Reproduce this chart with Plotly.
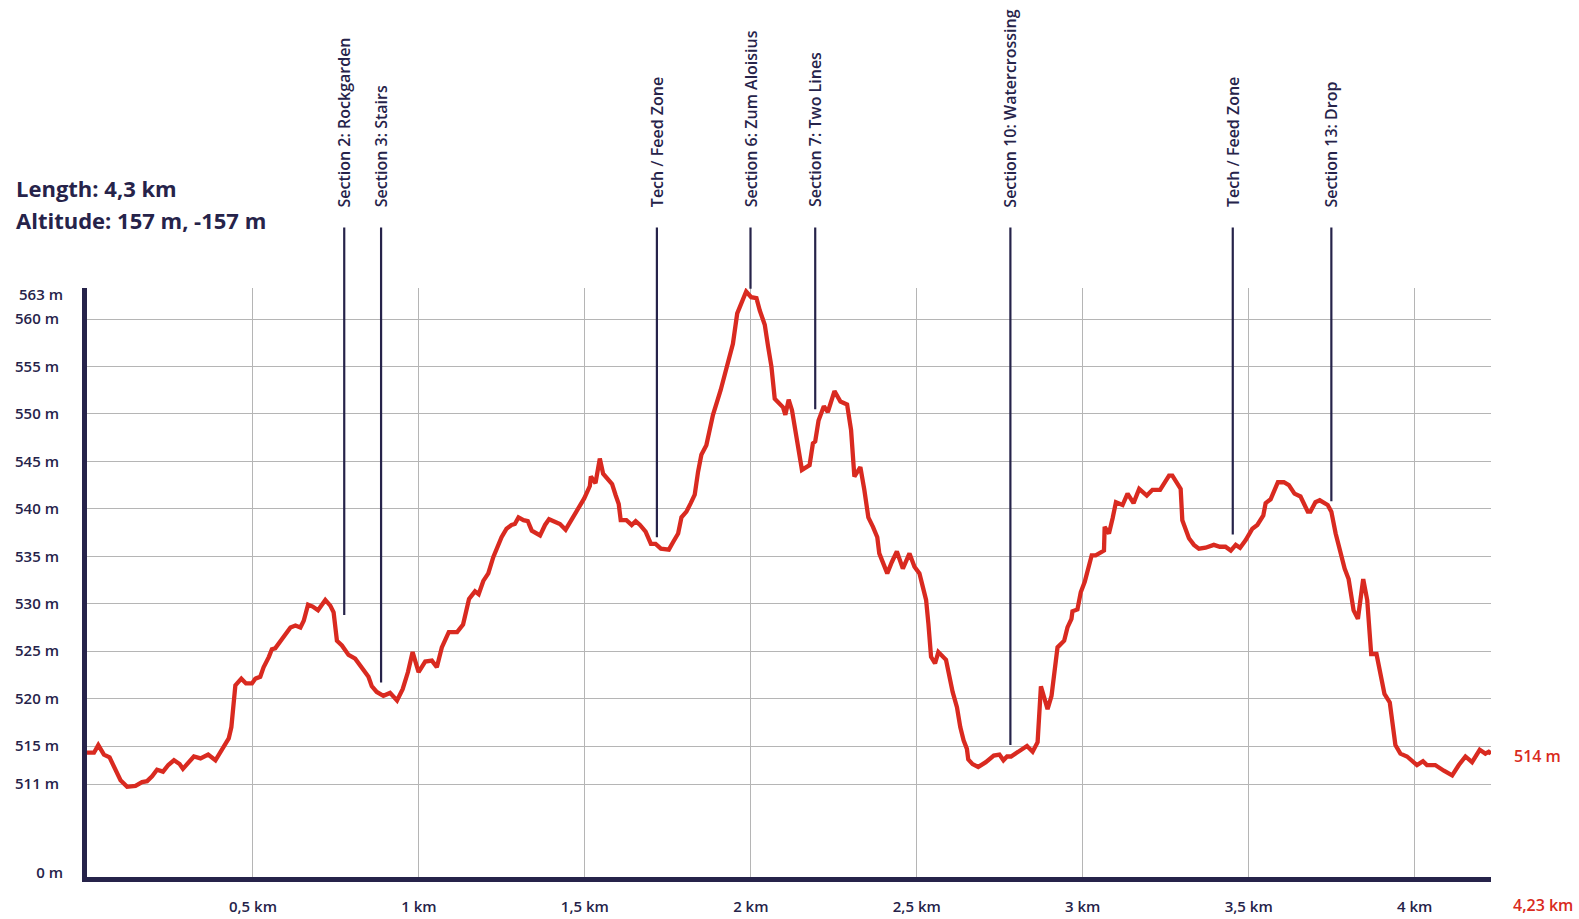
import plotly.graph_objects as go

# ---------------- data ----------------
DIST_KM = [
    0.000, 0.021, 0.034, 0.051, 0.068, 0.086, 0.101, 0.121, 0.146, 0.166, 0.181, 0.196,
    0.211, 0.229, 0.245, 0.262, 0.279, 0.289, 0.305, 0.322, 0.342, 0.365, 0.387, 0.407,
    0.427, 0.435, 0.447, 0.465, 0.479, 0.497, 0.507, 0.522, 0.532, 0.548, 0.557, 0.567,
    0.582, 0.597, 0.613, 0.628, 0.643, 0.653, 0.666, 0.680, 0.696, 0.718, 0.733, 0.743,
    0.753, 0.768, 0.788, 0.808, 0.828, 0.848, 0.858, 0.873, 0.893, 0.913, 0.934, 0.951,
    0.967, 0.981, 0.999, 1.019, 1.039, 1.054, 1.069, 1.090, 1.115, 1.133, 1.151, 1.169,
    1.180, 1.194, 1.209, 1.224, 1.249, 1.264, 1.279, 1.289, 1.300, 1.315, 1.328, 1.340,
    1.365, 1.380, 1.392, 1.408, 1.425, 1.442, 1.460, 1.480, 1.498, 1.515, 1.518, 1.532,
    1.545, 1.555, 1.568, 1.582, 1.593, 1.602, 1.608, 1.625, 1.641, 1.653, 1.666, 1.683,
    1.699, 1.713, 1.729, 1.753, 1.766, 1.781, 1.791, 1.806, 1.819, 1.831, 1.841, 1.851,
    1.866, 1.886, 1.909, 1.931, 1.946, 1.959, 1.971, 1.986, 2.001, 2.017, 2.027, 2.042,
    2.052, 2.062, 2.072, 2.087, 2.097, 2.104, 2.114, 2.124, 2.137, 2.154, 2.177, 2.187,
    2.194, 2.204, 2.220, 2.232, 2.252, 2.270, 2.290, 2.302, 2.312, 2.330, 2.342, 2.354,
    2.368, 2.381, 2.387, 2.398, 2.411, 2.425, 2.440, 2.458, 2.478, 2.493, 2.508, 2.518,
    2.528, 2.535, 2.543, 2.555, 2.565, 2.588, 2.598, 2.608, 2.621, 2.631, 2.641, 2.651,
    2.655, 2.668, 2.685, 2.708, 2.732, 2.749, 2.761, 2.772, 2.784, 2.809, 2.832, 2.849,
    2.864, 2.874, 2.884, 2.894, 2.906, 2.914, 2.924, 2.944, 2.954, 2.966, 2.969, 2.984,
    2.994, 3.006, 3.014, 3.027, 3.039, 3.052, 3.064, 3.066, 3.079, 3.090, 3.100, 3.120,
    3.135, 3.153, 3.170, 3.193, 3.210, 3.233, 3.245, 3.260, 3.270, 3.295, 3.300, 3.320,
    3.335, 3.350, 3.370, 3.395, 3.413, 3.430, 3.446, 3.461, 3.474, 3.491, 3.511, 3.526,
    3.544, 3.551, 3.566, 3.588, 3.606, 3.621, 3.638, 3.656, 3.678, 3.686, 3.701, 3.714,
    3.738, 3.749, 3.762, 3.782, 3.789, 3.801, 3.812, 3.816, 3.829, 3.845, 3.857, 3.869,
    3.885, 3.897, 3.909, 3.925, 3.932, 3.942, 3.957, 3.977, 4.007, 4.025, 4.037, 4.062,
    4.088, 4.113, 4.133, 4.153, 4.173, 4.196, 4.213, 4.223, 4.230,
]

ALTITUDE_M = [
    514.3, 514.3, 515.1, 514.1, 513.8, 512.4, 511.4, 510.7, 510.8, 511.2, 511.3, 511.8,
    512.5, 512.3, 513.0, 513.5, 513.1, 512.6, 513.3, 513.9, 513.7, 514.1, 513.5, 514.7,
    515.8, 517.0, 521.4, 522.1, 521.6, 521.6, 522.1, 522.3, 523.3, 524.4, 525.2, 525.3,
    526.0, 526.8, 527.5, 527.7, 527.5, 528.2, 529.9, 529.7, 529.3, 530.4, 529.8, 529.1,
    526.1, 525.6, 524.6, 524.2, 523.3, 522.3, 521.3, 520.7, 520.3, 520.6, 519.8, 521.0,
    522.8, 524.9, 522.8, 523.9, 524.0, 523.3, 525.4, 527.0, 527.0, 527.8, 530.5, 531.3,
    531.0, 532.4, 533.2, 534.9, 537.0, 537.9, 538.3, 538.4, 539.1, 538.8, 538.7, 537.7,
    537.2, 538.3, 538.9, 538.7, 538.4, 537.8, 538.9, 539.9, 541.1, 542.4, 543.4, 542.7,
    545.3, 543.7, 543.1, 542.6, 541.4, 540.5, 538.8, 538.8, 538.3, 538.7, 538.3, 537.6,
    536.3, 536.3, 535.8, 535.7, 536.5, 537.4, 539.1, 539.7, 540.6, 541.5, 543.9, 545.7,
    546.7, 549.9, 552.5, 555.3, 557.4, 560.6, 561.7, 562.9, 562.3, 562.2, 560.9, 559.4,
    557.1, 555.0, 551.6, 551.1, 550.7, 549.9, 551.5, 550.4, 547.9, 544.1, 544.6, 546.9,
    547.1, 549.3, 550.8, 550.2, 552.4, 551.3, 551.0, 548.3, 543.4, 544.4, 542.0, 539.1,
    538.1, 537.0, 535.3, 534.4, 533.2, 534.4, 535.5, 533.7, 535.3, 533.9, 533.2, 531.8,
    530.4, 527.9, 524.4, 523.7, 524.9, 524.1, 522.3, 520.7, 519.1, 517.0, 515.6, 514.7,
    513.6, 513.1, 512.8, 513.3, 514.0, 514.1, 513.5, 513.9, 513.9, 514.5, 515.0, 514.4,
    515.4, 521.3, 520.0, 518.9, 520.3, 523.0, 525.4, 526.1, 527.5, 528.4, 529.2, 529.4,
    531.2, 532.3, 533.5, 535.1, 535.1, 535.4, 535.6, 538.1, 537.4, 539.0, 540.7, 540.4,
    541.6, 540.6, 542.1, 541.4, 542.0, 542.0, 542.7, 543.5, 543.5, 542.1, 538.8, 536.9,
    536.2, 535.8, 535.9, 536.2, 536.0, 536.0, 535.6, 536.2, 535.9, 536.7, 537.9, 538.3,
    539.3, 540.6, 541.0, 542.8, 542.8, 542.5, 541.6, 541.3, 539.7, 539.7, 540.7, 540.9,
    540.4, 539.7, 537.4, 534.6, 533.7, 532.6, 530.5, 529.3, 528.4, 532.6, 530.4, 524.7,
    524.7, 522.6, 520.5, 519.6, 517.7, 515.1, 514.2, 513.9, 513.0, 513.4, 513.0, 513.0,
    512.4, 511.9, 513.0, 513.9, 513.3, 514.6, 514.2, 514.4, 514.2,
]

SECTION_NAMES = [
    "Section 2: Rockgarden", "Section 3: Stairs", "Tech / Feed Zone",
    "Section 6: Zum Aloisius", "Section 7: Two Lines", "Section 10: Watercrossing",
    "Tech / Feed Zone", "Section 13: Drop",
]
SECTION_KM = [0.775, 0.886, 1.717, 1.999, 2.194, 2.782, 3.452, 3.749]
SECTION_ALT = [528.8, 521.7, 537.0, 563.2, 550.5, 515.1, 537.3, 540.8]

X_TICKS = [0.5, 1, 1.5, 2, 2.5, 3, 3.5, 4]
X_TICK_TEXT = ["0,5 km", "1 km", "1,5 km", "2 km", "2,5 km", "3 km", "3,5 km", "4 km"]
Y_TICKS = [511, 515, 520, 525, 530, 535, 540, 545, 550, 555, 560]
Y_TICK_TEXT = [f"{v} m" for v in Y_TICKS]
Y_EXTRA_TEXT = ["0 m", "563 m"]

TOTAL_KM_TEXT = "4,23 km"
END_ALT_TEXT = "514 m"
INFO_LINES = ["Length: 4,3 km", "Altitude: 157 m, -157 m"]

# ---------------- style ----------------
NAVY = "#26234a"
RED = "#d92a20"
GRID = "#b5b5b5"
FONT = "Open Sans"
Y_RANGE = [501.2, 563.27]
X_RANGE = [0, 4.23]

fig = go.Figure()
fig.add_trace(go.Scatter(
    x=DIST_KM, y=ALTITUDE_M, mode="lines",
    line=dict(color=RED, width=4.3), hoverinfo="skip", showlegend=False,
))
# invisible trace on the overlay axis so that it is drawn
fig.add_trace(go.Scatter(x=[None], y=[None], yaxis="y2", showlegend=False, hoverinfo="skip"))

tickfont = dict(family=FONT, size=15, color=NAVY, weight=600)

fig.update_layout(
    width=1579, height=919,
    margin=dict(l=87, r=88, t=288, b=42, autoexpand=False),
    paper_bgcolor="white", plot_bgcolor="white",
    showlegend=False,
    xaxis=dict(
        range=X_RANGE, tickvals=X_TICKS, ticktext=X_TICK_TEXT,
        showgrid=True, gridcolor=GRID, gridwidth=1,
        showline=True, linecolor=NAVY, linewidth=5,
        zeroline=False, ticks="outside", ticklen=12, tickcolor="rgba(0,0,0,0)",
        tickfont=tickfont, fixedrange=True, automargin=False,
    ),
    yaxis=dict(
        range=Y_RANGE, tickvals=Y_TICKS, ticktext=Y_TICK_TEXT,
        showgrid=True, gridcolor=GRID, gridwidth=1,
        showline=True, linecolor=NAVY, linewidth=5,
        zeroline=False, ticks="outside", ticklen=20, tickcolor="rgba(0,0,0,0)",
        tickfont=tickfont, fixedrange=True, automargin=False,
    ),
    yaxis2=dict(
        overlaying="y", side="left", range=Y_RANGE,
        tickvals=[501.6, 562.6], ticktext=Y_EXTRA_TEXT,
        showgrid=False, showline=False, zeroline=False,
        ticks="outside", ticklen=20, tickcolor="rgba(0,0,0,0)",
        tickfont=tickfont, fixedrange=True, automargin=False,
    ),
)

annotations = []
# section marker lines (as arrows without heads) and labels
for name, km, alt in zip(SECTION_NAMES, SECTION_KM, SECTION_ALT):
    annotations.append(dict(
        x=km, y=alt, xref="x", yref="y",
        ax=km, ay=569.8, axref="x", ayref="y",
        text="", showarrow=True, arrowhead=0, arrowwidth=2.2,
        arrowcolor=NAVY, standoff=0, startstandoff=0,
    ))
    annotations.append(dict(
        x=km, y=1.1337, xref="x", yref="paper",
        text=name, showarrow=False, textangle=-90,
        xanchor="center", yanchor="bottom",
        font=dict(family=FONT, size=16, color=NAVY, weight=600),
    ))

# info text
for i, line in enumerate(INFO_LINES):
    annotations.append(dict(
        x=0, y=1, xref="paper", yref="paper", xshift=-73, yshift=100 - 32 * i,
        text=line, showarrow=False, xanchor="left", yanchor="middle",
        font=dict(family=FONT, size=22, color=NAVY, weight=700),
    ))

# end labels in red
annotations.append(dict(
    x=1, y=514.0, xref="paper", yref="y", xshift=21,
    text=END_ALT_TEXT, showarrow=False, xanchor="left", yanchor="middle",
    font=dict(family=FONT, size=16, color=RED, weight=600),
))
annotations.append(dict(
    x=X_RANGE[1], y=0, xref="x", yref="paper", xshift=20, yshift=-28,
    text=TOTAL_KM_TEXT, showarrow=False, xanchor="left", yanchor="middle",
    font=dict(family=FONT, size=16, color=RED, weight=600),
))

fig.update_layout(annotations=annotations)

fig.write_html(
    "out.html",
    config={"displayModeBar": False, "staticPlot": True},
    post_script="document.body.style.margin='0';document.body.style.overflow='hidden';",
)
